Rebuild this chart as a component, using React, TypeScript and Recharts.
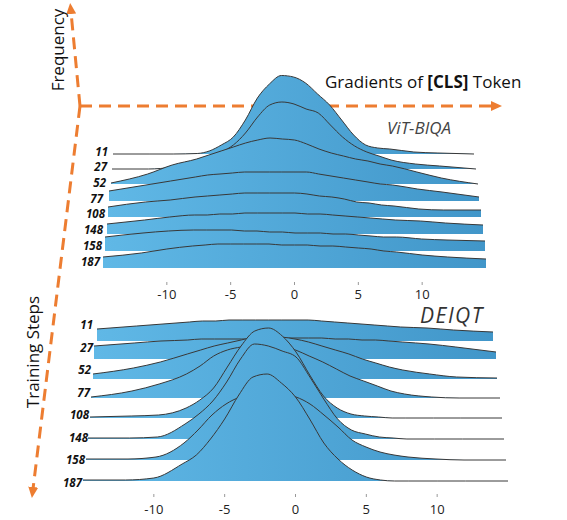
import { AreaChart, Area, XAxis, YAxis } from 'recharts';

// gradient value grid shared by every ridge
const GRID = [-15, -12, -10, -8, -7, -6, -5, -4, -3, -2, -1, 0, 1, 2, 3, 4, 5, 6, 7, 8, 10, 12, 15];
const STEPS = ['11', '27', '52', '77', '108', '148', '158', '187'];
const TICKS = [-10, -5, 0, 5, 10];

// ViT-BIQA: frequency of [CLS] gradients per training step
const vit11 = [0, 0, 0, 0.5, 3, 9, 17, 34, 56, 70, 78.5, 77, 71, 60, 49, 34, 19, 9, 6, 5, 2, 1, 0];
const vit27 = [0, 0, 2, 9, 13, 17, 24, 36, 52, 64, 67, 65, 60, 56, 44, 32, 23, 17, 13, 9, 5, 3, 0];
const vit52 = [1, 10, 19, 25, 29, 33, 37, 41, 44, 46, 45, 44, 40, 35, 31, 28, 25, 23, 20, 18, 12, 6, 0];
const vit77 = [10, 16, 20, 24, 26, 27, 28, 29, 29, 29, 29, 29, 29, 27, 25, 23, 21, 19, 17, 16, 12, 9, 4];
const vit108 = [10, 15, 17, 20, 21, 22, 23, 24, 24, 24, 24, 24, 23, 21, 20, 18, 15, 14, 12, 11, 8, 7, 7];
const vit148 = [10, 14, 17, 19, 19, 20, 20, 21, 21, 21, 21, 21, 20, 20, 19, 18, 17, 16, 15, 14, 13, 11, 9];
const vit158 = [14, 18, 20, 21, 21, 21, 21, 20, 20, 19, 19, 18, 18, 18, 17, 17, 16, 15, 14, 14, 12, 11, 10];
const vit187 = [11, 15, 19, 22, 23, 24, 24, 24, 24, 24, 23, 23, 23, 22, 22, 21, 20, 19, 17, 16, 13, 11, 9];

// DEIQT
const deiqt11 = [12, 15, 17, 19, 20, 20, 21, 21, 21, 21, 21, 21, 21, 20, 19, 18, 17, 16, 15, 14, 13, 11, 9];
const deiqt27 = [13, 16, 18, 19, 20, 20, 20, 20, 20, 21, 21, 21, 21, 21, 20, 20, 19, 19, 18, 17, 15, 12, 7];
const deiqt52 = [5, 11, 17, 25, 29, 33, 36, 39, 42, 43, 42, 40, 37, 33, 29, 25, 20, 16, 12, 9, 5, 2, 1];
const deiqt77 = [1, 7, 14, 24, 32, 42, 48, 51, 53, 54, 52, 48, 42, 36, 29, 22, 17, 12, 7, 4, 1, 0, 0];
const deiqt108 = [1, 2, 3, 10, 18, 30, 51, 72, 87, 90, 82, 66, 43, 22, 10, 4, 2, 1, 0, 0, 0, 0, 0];
const deiqt148 = [1, 1, 2, 15, 25, 38, 57, 80, 95, 93, 88, 82, 62, 40, 20, 9, 5, 2, 1, 0, 0, 0, 0];
const deiqt158 = [1, 1, 3, 17, 30, 45, 56, 63, 67, 68, 66, 63, 56, 45, 33, 20, 13, 8, 5, 3, 1, 0, 0];
const deiqt187 = [1, 1, 3, 17, 26, 42, 62, 86, 104, 107, 98, 84, 62, 38, 22, 11, 4, 1, 0, 0, 0, 0, 0];

const VIT = [vit11, vit27, vit52, vit77, vit108, vit148, vit158, vit187];
const DEIQT = [deiqt11, deiqt27, deiqt52, deiqt77, deiqt108, deiqt148, deiqt158, deiqt187];

// pseudo-3D placement of each ridge: rows further back are narrower
const VIT_LAYOUT = [
  { left: 113, right: 474, base: 154, lx: 108, ly: 151 },
  { left: 112, right: 476, base: 169, lx: 107, ly: 166 },
  { left: 111, right: 478, base: 184, lx: 106, ly: 182 },
  { left: 109, right: 479, base: 201, lx: 103, ly: 198 },
  { left: 108, right: 481, base: 217, lx: 105, ly: 213 },
  { left: 107, right: 483, base: 234, lx: 103, ly: 229 },
  { left: 105, right: 485, base: 251, lx: 102, ly: 245 },
  { left: 103, right: 486, base: 268, lx: 100, ly: 261 },
];
const DEIQT_LAYOUT = [
  { left: 97, right: 493, base: 341, lx: 93, ly: 324 },
  { left: 94, right: 496, base: 359, lx: 93, ly: 347 },
  { left: 93, right: 497, base: 379, lx: 91, ly: 369 },
  { left: 91, right: 500, base: 398, lx: 90, ly: 392 },
  { left: 90, right: 502, base: 418, lx: 89, ly: 414 },
  { left: 88, right: 504, base: 439, lx: 88, ly: 437 },
  { left: 86, right: 506, base: 460, lx: 85, ly: 459 },
  { left: 83, right: 508, base: 481, lx: 82, ly: 482 },
];

const H = 120;
const FONT = '"Open Sans", "DejaVu Sans", sans-serif';
const ORANGE = '#ED7D31';

const makeTick = (markY: number, textY: number) => (props: any) => {
  const { x, y, payload } = props;
  return (
    <g>
      <line x1={x} x2={x} y1={y + markY} y2={y + markY + 3} stroke="#999" strokeWidth={1} />
      <text x={x} y={y + textY} textAnchor="middle" dominantBaseline="central" fontSize={13} fill="#222" fontFamily={FONT}>
        {payload.value}
      </text>
    </g>
  );
};

type Row = { left: number; right: number; base: number; lx: number; ly: number };

function Ridge({ freq, row, id, axis }: { freq: number[]; row: Row; id: string; axis?: { mark: number; text: number } }) {
  const data = GRID.map((x, i) => ({ x, f: freq[i] }));
  const w = row.right - row.left;
  const axisH = axis ? 36 : 0;
  const h = H + (axis ? axisH : 2);
  return (
    <div style={{ position: 'absolute', left: row.left, top: row.base - H, width: w, height: h }}>
      <AreaChart width={w} height={h} data={data} margin={{ top: 0, right: 0, bottom: axis ? 0 : 2, left: 0 }}>
        <defs>
          <linearGradient id={id} x1="0" y1="0" x2="1" y2="0">
            <stop offset="0%" stopColor="#60b8e6" />
            <stop offset="100%" stopColor="#4196c9" />
          </linearGradient>
        </defs>
        <XAxis
          dataKey="x"
          type="number"
          domain={[-15, 15]}
          ticks={TICKS}
          hide={!axis}
          height={axisH}
          axisLine={false}
          tickLine={false}
          tickSize={0}
          tickMargin={0}
          interval={0}
          tick={axis ? makeTick(axis.mark, axis.text) : false}
        />
        <YAxis domain={[0, H]} hide />
        <Area
          type="monotone"
          dataKey="f"
          stroke="#383838"
          strokeWidth={1}
          fill={`url(#${id})`}
          fillOpacity={1}
          isAnimationActive={false}
          dot={false}
          activeDot={false}
        />
      </AreaChart>
    </div>
  );
}

export default function App() {
  return (
    <div style={{ position: 'absolute', left: 0, top: 0, width: 567, height: 520, background: '#fff', overflow: 'hidden' }}>
      {/* orange axes of the 3D sketch */}
      <svg width={567} height={520} style={{ position: 'absolute', left: 0, top: 0 }}>
        <defs>
          <marker id="head" markerUnits="userSpaceOnUse" markerWidth={12} markerHeight={10} refX={2} refY={5} orient="auto">
            <path d="M0,0 L11,5 L0,10 z" fill={ORANGE} />
          </marker>
        </defs>
        <g stroke={ORANGE} strokeWidth={3} strokeDasharray="12 7" fill="none">
          <line x1={80} y1={106} x2={71} y2={12} markerEnd="url(#head)" />
          <line x1={80} y1={106} x2={493} y2={106} markerEnd="url(#head)" />
          <line x1={80} y1={106} x2={33} y2={489} markerEnd="url(#head)" />
        </g>
      </svg>

      {VIT.map((f, i) => (
        <Ridge key={`v${i}`} freq={f} row={VIT_LAYOUT[i]} id={`vit-${i}`} axis={i === 7 ? { mark: 14, text: 26 } : undefined} />
      ))}
      {DEIQT.map((f, i) => (
        <Ridge key={`d${i}`} freq={f} row={DEIQT_LAYOUT[i]} id={`deiqt-${i}`} axis={i === 7 ? { mark: 13, text: 28 } : undefined} />
      ))}

      <svg width={567} height={520} style={{ position: 'absolute', left: 0, top: 0, pointerEvents: 'none' }} fontFamily={FONT}>
        <text transform="translate(57,50) rotate(-90)" textAnchor="middle" dominantBaseline="central" fontSize={17} fill="#111">
          Frequency
        </text>
        <text transform="translate(32,352) rotate(-90)" textAnchor="middle" dominantBaseline="central" fontSize={17} fill="#111">
          Training Steps
        </text>
        <text x={325} y={81} dominantBaseline="central" fontSize={17} fill="#111">
          Gradients of <tspan fontWeight="bold">[CLS]</tspan> Token
        </text>
        <text x={387} y={127} dominantBaseline="central" fontSize={17} fontStyle="italic" fill="#444">
          ViT-BIQA
        </text>
        <text x={420} y={315} dominantBaseline="central" fontSize={21} fontStyle="italic" fill="#333" letterSpacing={1.5}>
          DEIQT
        </text>
        {VIT_LAYOUT.map((r, i) => (
          <text key={`vl${i}`} x={r.lx} y={r.ly} textAnchor="end" dominantBaseline="central" fontSize={11.5} fontWeight="bold" fontStyle="italic" fill="#111">
            {STEPS[i]}
          </text>
        ))}
        {DEIQT_LAYOUT.map((r, i) => (
          <text key={`dl${i}`} x={r.lx} y={r.ly} textAnchor="end" dominantBaseline="central" fontSize={11.5} fontWeight="bold" fontStyle="italic" fill="#111">
            {STEPS[i]}
          </text>
        ))}
      </svg>
    </div>
  );
}
